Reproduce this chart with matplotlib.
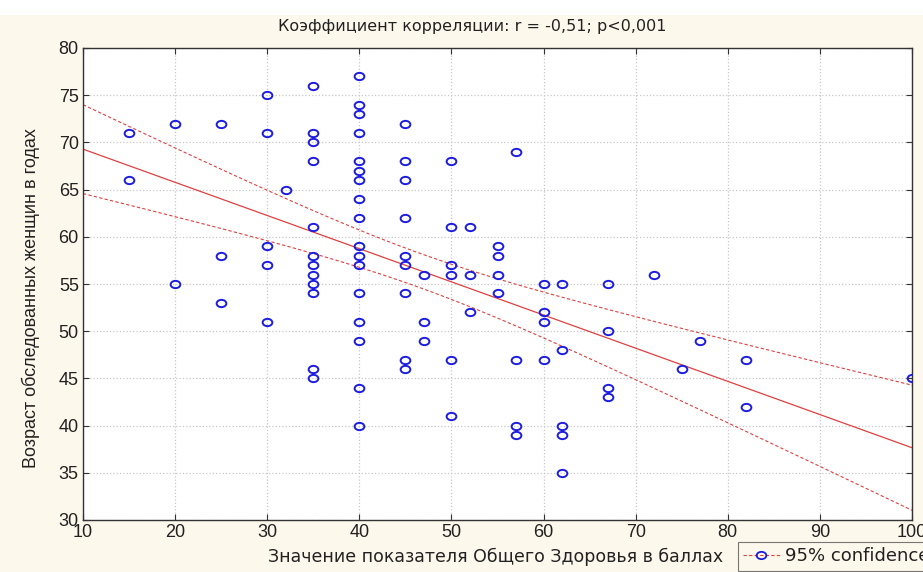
import numpy as np
import matplotlib

matplotlib.use("Agg")
import matplotlib.pyplot as plt
from matplotlib.path import Path
from matplotlib.patches import Rectangle
from matplotlib.lines import Line2D

plt.rcParams["font.family"] = ["Liberation Sans", "DejaVu Sans"]

BG = "#fdf8ec"
BLUE = "#1c1ce0"
RED = "#e04040"
TXT = "#222222"

# health score (x) -> ages of the women at that score (y)
scores = [15, 20, 25, 30, 32, 35, 40, 45, 47, 50, 52, 55, 57, 60, 62, 67, 72, 75, 77, 82, 100]
ages = [
    [71, 66],
    [72, 55],
    [72, 58, 53],
    [75, 71, 59, 57, 51],
    [65],
    [76, 71, 70, 68, 61, 58, 57, 56, 55, 54, 46, 45],
    [77, 74, 73, 71, 68, 67, 66, 64, 62, 59, 58, 57, 54, 51, 49, 44, 40],
    [72, 68, 66, 62, 58, 57, 54, 47, 46],
    [56, 51, 49],
    [68, 61, 57, 56, 47, 41],
    [61, 56, 52],
    [59, 58, 56, 54],
    [69, 47, 40, 39],
    [55, 52, 51, 47],
    [55, 48, 40, 39, 35],
    [55, 50, 44, 43],
    [56],
    [46],
    [49],
    [47, 42],
    [45],
]

x = np.array([s for s, a in zip(scores, ages) for _ in a], dtype=float)
y = np.array([v for a in ages for v in a], dtype=float)

# linear fit + 95% confidence band of the mean
n = len(x)
b, a = np.polyfit(x, y, 1)
resid = y - (a + b * x)
s = np.sqrt(np.sum(resid ** 2) / (n - 2))
xm = x.mean()
sxx = np.sum((x - xm) ** 2)
t = 1.99
xs = np.linspace(10, 100, 200)
fit = a + b * xs
half = t * s * np.sqrt(1 / n + (xs - xm) ** 2 / sxx)

fig = plt.figure(figsize=(9.23, 5.72), dpi=100)
fig.patch.set_facecolor(BG)
fig.patches.append(Rectangle((0, 1 - 15 / 572), 1, 15 / 572, transform=fig.transFigure,
                             facecolor="white", edgecolor="none", zorder=0))
ax = fig.add_axes([83 / 923, 1 - 520 / 572, (912 - 83) / 923, (520 - 48) / 572])
ax.set_facecolor("white")

circ = Path.unit_circle()
ell = Path(circ.vertices * np.array([1.0, 0.75]), circ.codes)
ax.plot(x, y, linestyle="none", marker=ell, markersize=7, mfc="none",
        mec=BLUE, mew=1.4, zorder=3)
ax.plot(xs, fit, color=RED, lw=0.9, zorder=2)
ax.plot(xs, fit + half, color=RED, lw=0.8, ls=(0, (3, 2)), zorder=2)
ax.plot(xs, fit - half, color=RED, lw=0.8, ls=(0, (3, 2)), zorder=2)

ax.set_xlim(10, 100)
ax.set_ylim(30, 80)
ax.set_xticks(range(10, 101, 10))
ax.set_yticks(range(30, 81, 5))
ax.grid(True, color="#c8c8c8", ls=":", lw=0.9)
ax.tick_params(direction="in", top=True, right=True, labelsize=13, length=4,
               color="#333333", pad=3, labelcolor=TXT)
for sp in ax.spines.values():
    sp.set_color("#333333")
    sp.set_linewidth(1.0)

fig.text(472 / 923, 1 - 27 / 572, "Коэффициент корреляции: r = -0,51; p<0,001",
         ha="center", va="center", fontsize=11.5, color=TXT, family="DejaVu Sans")
fig.text(496 / 923, 1 - 557 / 572, "Значение показателя Общего Здоровья в баллах",
         ha="center", va="center", fontsize=12.5, color=TXT, family="DejaVu Sans")
fig.text(31 / 923, 1 - 298 / 572, "Возраст обследованных женщин в годах",
         ha="center", va="center", rotation=90, fontsize=13, color=TXT)

h = Line2D([], [], color=RED, lw=0.8, ls=(0, (3, 2)), marker=ell, markersize=7,
           mfc="none", mec=BLUE, mew=1.3)
leg = fig.legend([h], ["95% confidence"], loc="upper left",
                 bbox_to_anchor=(738 / 923, 1 - 542 / 572), fontsize=13,
                 prop={"family": "DejaVu Sans", "size": 13},
                 frameon=True, fancybox=False, handlelength=2.0, borderpad=0.3,
                 handletextpad=0.3, borderaxespad=0)
leg.get_frame().set_edgecolor("#555555")
leg.get_frame().set_facecolor(BG)
leg.get_frame().set_linewidth(0.8)
for txt in leg.get_texts():
    txt.set_color(TXT)

fig.savefig("out.png", facecolor=BG)
